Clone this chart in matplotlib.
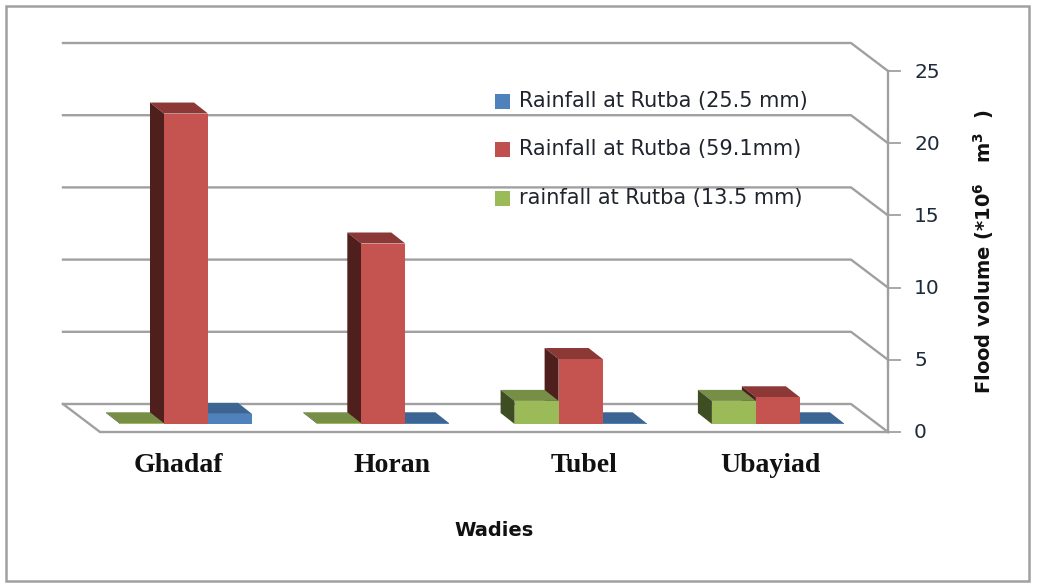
import matplotlib
matplotlib.use('Agg')
import numpy as np
import matplotlib.pyplot as plt
from matplotlib.patches import Polygon, Rectangle

# Values
wadies = ['Ghadaf', 'Horan', 'Tubel', 'Ubayiad']
rain_13 = [0.05, 0.05, 1.6, 1.6]
rain_59 = [21.5, 12.5, 4.5, 1.85]
rain_25 = [0.7, 0.05, 0.05, 0.05]
y_ticks = [0, 5, 10, 15, 20, 25]
legend_labels = ['Rainfall at Rutba (25.5 mm)', 'Rainfall at Rutba (59.1mm)', 'rainfall at Rutba (13.5 mm)']

# Pixel geometry of the fake 3D box
y_zero = 432
px_per_unit = 14.44
floor_left, floor_right = 100, 888
depth_x, depth_y = 37, 28
bar_w = 44
group_step = 197.3
first_center = 186
bar_base = 424
bar_dx, bar_dy = 14, 11
label_x = [178, 392, 584, 770]

fig = plt.figure(figsize=(10.37, 5.83), dpi=100)
ax = fig.add_axes([0, 0, 1, 1])
ax.set_xlim(0, 1037)
ax.set_ylim(583, 0)
ax.axis('off')

ax.add_patch(Rectangle((5.5, 5.5), 1023, 575.5, fill=False, ec='#a0a0a0', lw=1.8))

grid_col = '#a0a0a0'
for t in y_ticks:
    y = y_zero - t * px_per_unit
    ax.plot([floor_left - depth_x, floor_right - depth_x, floor_right],
            [y - depth_y, y - depth_y, y], color=grid_col, lw=1.7, zorder=1)
    ax.plot([floor_right, floor_right + 12], [y, y], color=grid_col, lw=1.3, zorder=1)
    ax.text(914, y + 1, str(t), ha='left', va='center', fontsize=14.5, color='#1f2a3a')
ax.plot([floor_left - depth_x, floor_left, floor_right],
        [y_zero - depth_y, y_zero, y_zero], color=grid_col, lw=1.7, zorder=1)
ax.plot([floor_right, floor_right], [y_zero, y_zero - y_ticks[-1] * px_per_unit],
        color=grid_col, lw=1.7, zorder=1)


def draw_bar(x0, value, front, top, side, order):
    h = value * px_per_unit
    y_top = bar_base - h
    x1 = x0 + bar_w
    ax.add_patch(Polygon([(x0, y_top), (x1, y_top), (x1 - bar_dx, y_top - bar_dy), (x0 - bar_dx, y_top - bar_dy)],
                         fc=top, ec='none', zorder=order))
    ax.add_patch(Polygon([(x0, bar_base), (x0, y_top), (x0 - bar_dx, y_top - bar_dy), (x0 - bar_dx, bar_base - bar_dy)],
                         fc=side, ec='none', zorder=order))
    ax.add_patch(Rectangle((x0, y_top), bar_w, h, fc=front, ec='none', zorder=order + 0.1))


series = [
    (rain_13, '#9bbb59', '#768e45', '#3f4d23', -1.5),
    (rain_59, '#c5534f', '#8b3836', '#4f1f1d', -0.5),
    (rain_25, '#4f81bd', '#3d6593', '#2f4d70', 0.5),
]
for i, name in enumerate(wadies):
    cx = first_center + i * group_step
    # right-hand bars first, the side faces of the left ones sit on top
    for k, (vals, front, top, side, off) in enumerate(reversed(series)):
        draw_bar(cx + off * bar_w, vals[i], front, top, side, 3 + k)
    ax.text(label_x[i], 465, name, ha='center', va='center', fontsize=20, fontweight='bold',
            family='Liberation Serif', color='#111111')

legend_cols = ['#4f81bd', '#c0504d', '#9bbb59']
legend_ys = [101, 149, 198]
for lab, col, ly in zip(legend_labels, legend_cols, legend_ys):
    ax.add_patch(Rectangle((495, ly - 7), 15, 15, fc=col, ec='none', zorder=6))
    ax.text(519, ly, lab, ha='left', va='center', fontsize=15, color='#20242c', zorder=6)

ax.text(494, 530, 'Wadies', ha='center', va='center', fontsize=14, fontweight='bold',
        family='DejaVu Sans', color='#111111')
ax.text(984, 252, r'Flood volume (*10$^{\mathbf{6}}$   m$^{\mathbf{3}}$  )', rotation=90,
        ha='center', va='center', fontsize=14, fontweight='bold', family='DejaVu Sans', color='#111111')

fig.savefig('out.png', dpi=100)
